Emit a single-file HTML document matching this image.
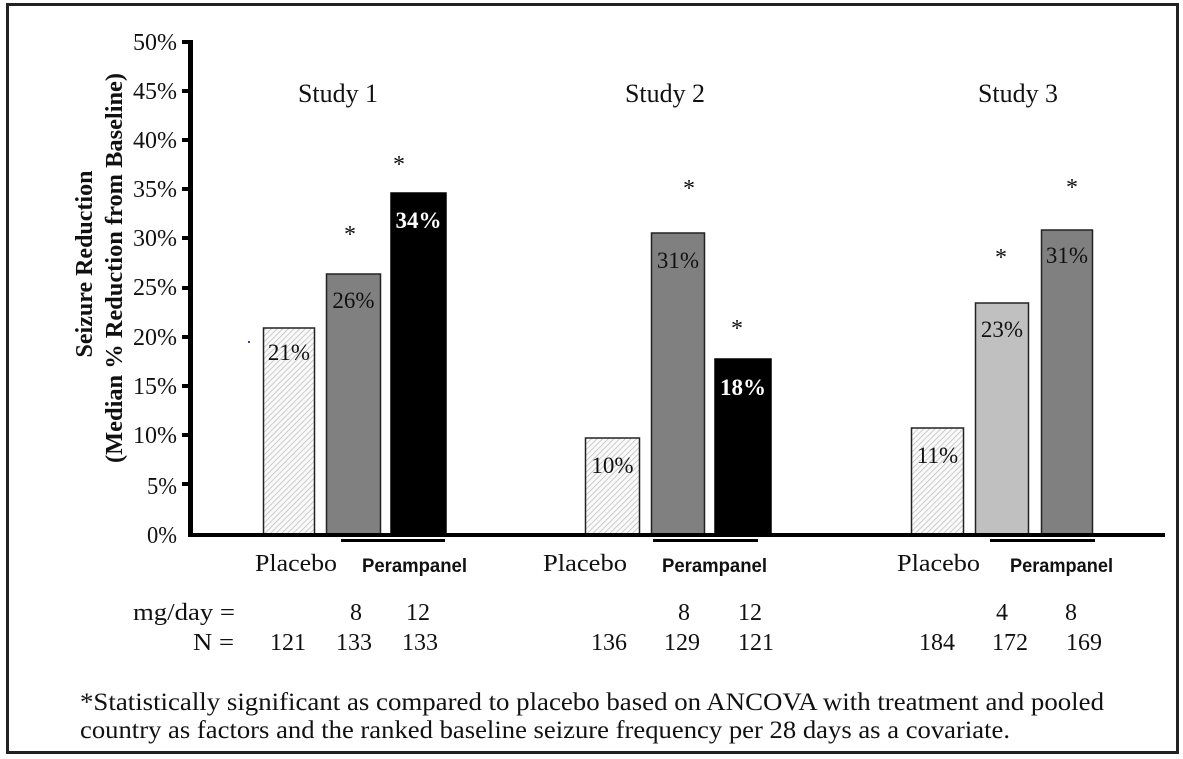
<!DOCTYPE html>
<html>
<head>
<meta charset="utf-8">
<style>
  html,body{margin:0;padding:0;background:#fff;}
  svg{display:block;}
  .t{font-family:"Liberation Serif","Times New Roman",serif;fill:#111;}
  .a{font-family:"Liberation Sans",Arial,sans-serif;font-weight:bold;fill:#111;}
</style>
</head>
<body>
<svg width="1183" height="759" viewBox="0 0 1183 759" xmlns="http://www.w3.org/2000/svg">
  <defs>
    <pattern id="hatch" patternUnits="userSpaceOnUse" width="4" height="4" patternTransform="rotate(45)">
      <rect width="4" height="4" fill="#fafafa"/>
      <line x1="0" y1="0" x2="0" y2="4" stroke="#b8b8b8" stroke-width="1.4"/>
    </pattern>
  </defs>
  <rect x="0" y="0" width="1183" height="759" fill="#fff"/>
  <!-- outer frame -->
  <rect x="7.5" y="4.5" width="1170" height="748" fill="none" stroke="#222" stroke-width="3"/>

  <!-- axis title -->
  <g class="t" font-family="Liberation Serif, serif" font-weight="bold" font-size="24" text-anchor="middle">
    <text transform="translate(92,264) rotate(-90)">Seizure Reduction</text>
    <text transform="translate(122,268) rotate(-90)" textLength="390" lengthAdjust="spacingAndGlyphs">(Median % Reduction from Baseline)</text>
  </g>

  <!-- y ticks & labels -->
  <g fill="#000">
    <rect x="182" y="40" width="6" height="4"/>
    <rect x="182" y="89" width="6" height="4"/>
    <rect x="182" y="138" width="6" height="4"/>
    <rect x="182" y="187" width="6" height="4"/>
    <rect x="182" y="236" width="6" height="4"/>
    <rect x="182" y="286" width="6" height="4"/>
    <rect x="182" y="335" width="6" height="4"/>
    <rect x="182" y="384" width="6" height="4"/>
    <rect x="182" y="433" width="6" height="4"/>
    <rect x="182" y="482" width="6" height="4"/>
  </g>
  <g class="t" font-family="Liberation Serif, serif" font-size="24" text-anchor="end">
    <text x="177" y="50" textLength="44" lengthAdjust="spacingAndGlyphs">50%</text>
    <text x="177" y="99" textLength="44" lengthAdjust="spacingAndGlyphs">45%</text>
    <text x="177" y="148" textLength="44" lengthAdjust="spacingAndGlyphs">40%</text>
    <text x="177" y="197" textLength="44" lengthAdjust="spacingAndGlyphs">35%</text>
    <text x="177" y="246" textLength="44" lengthAdjust="spacingAndGlyphs">30%</text>
    <text x="177" y="295" textLength="44" lengthAdjust="spacingAndGlyphs">25%</text>
    <text x="177" y="345" textLength="44" lengthAdjust="spacingAndGlyphs">20%</text>
    <text x="177" y="394" textLength="44" lengthAdjust="spacingAndGlyphs">15%</text>
    <text x="177" y="443" textLength="44" lengthAdjust="spacingAndGlyphs">10%</text>
    <text x="177" y="494" textLength="30" lengthAdjust="spacingAndGlyphs">5%</text>
    <text x="177" y="543" textLength="30" lengthAdjust="spacingAndGlyphs">0%</text>
  </g>

  <!-- study titles -->
  <g class="t" font-family="Liberation Serif, serif" font-size="26">
    <text x="298" y="102" textLength="80" lengthAdjust="spacingAndGlyphs">Study 1</text>
    <text x="625" y="102" textLength="80" lengthAdjust="spacingAndGlyphs">Study 2</text>
    <text x="978" y="102" textLength="80" lengthAdjust="spacingAndGlyphs">Study 3</text>
  </g>

  <!-- bars -->
  <g stroke="#222" stroke-width="1.5">
    <rect x="263.5" y="328" width="51" height="207" fill="url(#hatch)"/>
    <rect x="326.5" y="274" width="54" height="261" fill="#808080"/>
    <rect x="391" y="193" width="55" height="342" fill="#000" stroke="#000"/>

    <rect x="585.5" y="438" width="54" height="97" fill="url(#hatch)"/>
    <rect x="651.5" y="233" width="53" height="302" fill="#808080"/>
    <rect x="715" y="359" width="56" height="176" fill="#000" stroke="#000"/>

    <rect x="911.5" y="428" width="52" height="107" fill="url(#hatch)"/>
    <rect x="975.5" y="303" width="53" height="232" fill="#c0c0c0"/>
    <rect x="1041.5" y="230" width="51" height="305" fill="#808080"/>
  </g>

  <!-- axes -->
  <rect x="188" y="40" width="5" height="497" fill="#000"/>
  <rect x="188" y="533" width="977" height="4" fill="#000"/>

  <!-- bar labels -->
  <g class="t" font-family="Liberation Serif, serif" font-size="23" text-anchor="middle">
    <text x="289" y="360">21%</text>
    <text x="353.5" y="308">26%</text>
    <text x="418.5" y="228" fill="#fff" font-weight="bold">34%</text>
    <text x="612.5" y="473">10%</text>
    <text x="678" y="268">31%</text>
    <text x="743" y="395" fill="#fff" font-weight="bold">18%</text>
    <text x="937.5" y="463">11%</text>
    <text x="1002" y="337">23%</text>
    <text x="1067" y="263">31%</text>
  </g>

  <!-- asterisks -->
  <g class="t" font-family="Liberation Serif, serif" font-size="24" text-anchor="middle">
    <text x="350" y="242">*</text>
    <text x="399" y="172">*</text>
    <text x="689" y="196">*</text>
    <text x="737" y="336">*</text>
    <text x="1001" y="265">*</text>
    <text x="1072" y="195">*</text>
  </g>

  <!-- stray dot -->
  <rect x="248" y="341" width="2" height="2" fill="#3344aa"/>

  <!-- perampanel underlines -->
  <g fill="#000">
    <rect x="341" y="539" width="104" height="3"/>
    <rect x="653" y="539" width="105" height="3"/>
    <rect x="990" y="539" width="105" height="3"/>
  </g>

  <!-- group labels -->
  <g class="t" font-family="Liberation Serif, serif" font-size="24">
    <text x="255" y="571" textLength="82" lengthAdjust="spacingAndGlyphs">Placebo</text>
    <text x="543" y="571" textLength="84" lengthAdjust="spacingAndGlyphs">Placebo</text>
    <text x="897" y="571" textLength="83" lengthAdjust="spacingAndGlyphs">Placebo</text>
  </g>
  <g class="a" font-size="19">
    <text x="362" y="572" textLength="105" lengthAdjust="spacingAndGlyphs">Perampanel</text>
    <text x="662" y="572" textLength="105" lengthAdjust="spacingAndGlyphs">Perampanel</text>
    <text x="1010" y="572" textLength="103" lengthAdjust="spacingAndGlyphs">Perampanel</text>
  </g>

  <!-- dose & N rows -->
  <g class="t" font-family="Liberation Serif, serif" font-size="24">
    <text x="133" y="620" textLength="102" lengthAdjust="spacingAndGlyphs">mg/day =</text>
    <text x="193" y="650" textLength="41" lengthAdjust="spacingAndGlyphs">N =</text>
  </g>
  <g class="t" font-family="Liberation Serif, serif" font-size="24" text-anchor="middle">
    <text x="356" y="620">8</text>
    <text x="418" y="620">12</text>
    <text x="684" y="620">8</text>
    <text x="750" y="620">12</text>
    <text x="1002" y="620">4</text>
    <text x="1071" y="620">8</text>

    <text x="288" y="650">121</text>
    <text x="354" y="650">133</text>
    <text x="420" y="650">133</text>
    <text x="609" y="650">136</text>
    <text x="682" y="650">129</text>
    <text x="756" y="650">121</text>
    <text x="937" y="650">184</text>
    <text x="1010" y="650">172</text>
    <text x="1084" y="650">169</text>
  </g>

  <!-- footnote -->
  <g class="t" font-family="Liberation Serif, serif" font-size="25">
    <text x="80" y="710" textLength="1024" lengthAdjust="spacingAndGlyphs">*Statistically significant as compared to placebo based on ANCOVA with treatment and pooled</text>
    <text x="80" y="738" textLength="930" lengthAdjust="spacingAndGlyphs">country as factors and the ranked baseline seizure frequency per 28 days as a covariate.</text>
  </g>
</svg>
</body>
</html>
